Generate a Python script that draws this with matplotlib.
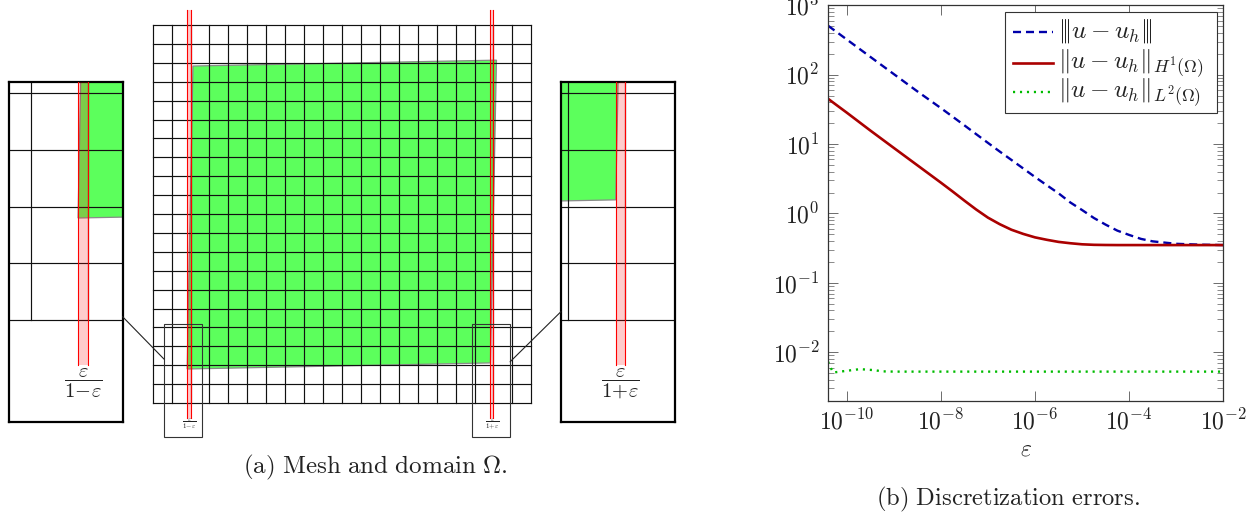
import matplotlib
matplotlib.use("Agg")
import numpy as np
import matplotlib.pyplot as plt
from matplotlib.patches import ConnectionPatch, Polygon, Rectangle
from matplotlib.ticker import LogLocator, NullFormatter, NullLocator

plt.rcParams['mathtext.fontset'] = 'cm'
plt.rcParams['font.family'] = ['cmr10', 'DejaVu Sans']
plt.rcParams['axes.formatter.use_mathtext'] = True

W, H = 1259, 516

# mesh and domain, in mesh units
n_cells = 20
domain_x = [0.1064, 0.908, 0.892, 0.091]
domain_y = [0.8915, 0.907, 0.106, 0.09]
strip_left = [0.091, 0.1]
strip_right = [0.892, 0.9]
strip_y = [-0.04, 1.04]
spy_left = [0.03, 0.13]
spy_right = [0.844, 0.944]
spy_y = [-0.09, 0.21]
label_left = r'$\dfrac{\varepsilon}{1\!-\!\varepsilon}$'
label_right = r'$\dfrac{\varepsilon}{1\!+\!\varepsilon}$'

# errors
eps = [4e-11, 1e-10, 3.16e-10, 1e-9, 3.16e-9, 1e-8, 1.78e-8, 3.16e-8, 5.62e-8, 1e-7, 1.78e-7,
       3.16e-7, 5.62e-7, 1e-6, 1.78e-6, 3.16e-6, 5.62e-6, 1e-5, 1.78e-5, 3.16e-5, 5.62e-5,
       1e-4, 1.78e-4, 3.16e-4, 1e-3, 3.16e-3, 1e-2]
err_triple = [509, 322, 181, 102, 57.5, 33, 24.8, 18.6, 13.9, 10.4, 7.8,
              5.9, 4.45, 3.35, 2.55, 1.95, 1.44, 1.12, 0.86, 0.69, 0.565,
              0.49, 0.43, 0.396, 0.365, 0.355, 0.35]
err_h1 = [45, 28.4, 15.7, 8.8, 4.95, 2.78, 2.07, 1.53, 1.14, 0.87, 0.70,
          0.582, 0.507, 0.452, 0.417, 0.389, 0.372, 0.359, 0.353, 0.351, 0.35,
          0.35, 0.35, 0.35, 0.35, 0.35, 0.35]
eps_l2 = [4e-11, 4.6e-11, 5.2e-11, 1.9e-10, 4e-10, 5.5e-10, 1e-9, 1e-8, 1e-6, 1e-4, 1e-2]
err_l2 = [0.0073, 0.0059, 0.0051, 0.0057, 0.0055, 0.0053, 0.00525, 0.00525, 0.00525, 0.00525, 0.00525]
x_ticks = [1e-10, 1e-8, 1e-6, 1e-4, 1e-2]
names = [r'$|\!|\!|u-u_h|\!|\!|$', r'$\Vert u-u_h\Vert_{H^1(\Omega)}$', r'$\Vert u-u_h\Vert_{L^2(\Omega)}$']
colors = ['#0000aa', '#aa0000', '#00bb00']


def px_axes(fig, left, top, right, bottom):
    return fig.add_axes([left / W, 1 - bottom / H, (right - left) / W, (bottom - top) / H])


def draw_mesh(ax, strips, labels, font_scale):
    # green domain first, the mesh and the strips go on top of it
    ax.add_patch(Polygon(np.column_stack([domain_x, domain_y]), closed=True,
                         facecolor='#5cff5c', edgecolor='#8a8a8a', lw=0.9, zorder=1))
    for k in range(n_cells + 1):
        ax.plot([k / n_cells, k / n_cells], [0, 1], color='#111111', lw=0.85, zorder=2)
        ax.plot([0, 1], [k / n_cells, k / n_cells], color='#111111', lw=0.85, zorder=2)
    for strip, label in zip(strips, labels):
        ax.add_patch(Rectangle((strip[0], strip_y[0]), strip[1] - strip[0], strip_y[1] - strip_y[0],
                               facecolor='red', alpha=0.2, lw=0, zorder=3))
        for x in strip:
            ax.plot([x, x], strip_y, color='red', lw=0.8, zorder=4)
        ax.text(sum(strip) / 2, -0.056, label, ha='center', va='center',
                fontsize=4.9 * font_scale, color='#222222')


fig = plt.figure(figsize=(W / 100, H / 100), dpi=100)

# left panel, main view: 0..1 sits at x 152.7..531.3 and y 403..25
ax = px_axes(fig, 152.7 - 0.1 * 378.6, 25 - 0.1 * 378, 531.3 + 0.1 * 378.6, 403 + 0.1 * 378)
ax.set_xlim(-0.1, 1.1)
ax.set_ylim(-0.1, 1.1)
ax.axis('off')
draw_mesh(ax, [strip_left, strip_right], [label_left, label_right], 1)
for spy in (spy_left, spy_right):
    ax.add_patch(Rectangle((spy[0], spy_y[0]), spy[1] - spy[0], spy_y[1] - spy_y[0],
                           fill=False, edgecolor='#333333', lw=0.8, zorder=5))

# the two magnified views, each only needs its own strip
ax_l = px_axes(fig, 8.5, 82, 122.5, 422)
ax_r = px_axes(fig, 561, 82, 675, 422)
for a, spy, strip, label in ((ax_l, spy_left, strip_left, label_left),
                             (ax_r, spy_right, strip_right, label_right)):
    draw_mesh(a, [strip], [label], 3)
    a.set_xlim(spy)
    a.set_ylim(spy_y)
    a.set_xticks([])
    a.set_yticks([])
    for s in a.spines.values():
        s.set_linewidth(1.6)

fig.add_artist(ConnectionPatch(xyA=(0.13, 0.003), coordsA=ax_l.transData,
                               xyB=(0.03, 0.116), coordsB=ax.transData, color='#222222', lw=0.8))
fig.add_artist(ConnectionPatch(xyA=(0.844, 0.0074), coordsA=ax_r.transData,
                               xyB=(0.944, 0.109), coordsB=ax.transData, color='#222222', lw=0.8))

fig.text(375 / W, 1 - 467 / H, r'$\mathrm{(a)\ Mesh\ and\ domain\ }\Omega\mathrm{.}$',
         ha='center', va='center', fontsize=18, color='#222222')
fig.text(1008 / W, 1 - 499 / H, r'$\mathrm{(b)\ Discretization\ errors.}$',
         ha='center', va='center', fontsize=17.7, color='#222222')

# right panel
bx = px_axes(fig, 828, 5.3, 1223.3, 400.7)
bx.loglog(eps, err_triple, color=colors[0], lw=1.7, dashes=(3.4, 2.1))
bx.loglog(eps, err_h1, color=colors[1], lw=1.9)
bx.loglog(eps_l2, err_l2, color=colors[2], lw=1.7, dashes=(0.9, 2.05))
bx.set_xlim(4e-11, 1e-2)
bx.set_ylim(2e-3, 1e3)
bx.set_xticks(x_ticks)
bx.xaxis.set_minor_locator(NullLocator())
bx.yaxis.set_major_locator(LogLocator(base=10, numticks=12))
bx.yaxis.set_minor_locator(LogLocator(base=10, subs=np.arange(2, 10), numticks=12))
bx.yaxis.set_minor_formatter(NullFormatter())
bx.tick_params(which='major', direction='in', top=True, right=True, length=7, width=0.6,
               color='#555555', labelsize=17, labelcolor='#222222', pad=6)
bx.tick_params(which='minor', direction='in', top=True, right=True, length=4.6, width=0.6,
               color='#777777')
bx.set_xlabel(r'$\varepsilon$', fontsize=17, color='#222222', labelpad=3)
for s in bx.spines.values():
    s.set_linewidth(0.9)
    s.set_color('#333333')

# legend by hand, the mathtext heights make the real legend's rows uneven
fx = lambda px: (px - 828) / 395.3
fy = lambda px: 1 - (px - 5.3) / 395.4
bx.add_patch(Rectangle((fx(1004.5), fy(112.7)), fx(1216.7) - fx(1004.5), fy(11.7) - fy(112.7),
                       transform=bx.transAxes, facecolor='white', edgecolor='#333333', lw=0.8, zorder=5))
row_y = [31.7, 62.7, 92.3]
row_style = [dict(dashes=(3.4, 2.1), lw=1.7), dict(lw=1.9), dict(dashes=(0.9, 2.05), lw=1.7)]
for name, col, y, style in zip(names, colors, row_y, row_style):
    bx.plot([fx(1013), fx(1053)], [fy(y), fy(y)], transform=bx.transAxes, color=col, zorder=6, **style)
    bx.text(fx(1058), fy(y + 6), name, transform=bx.transAxes, va='baseline', ha='left',
            fontsize=18.1, color='#222222', zorder=6)

fig.savefig('out.png', dpi=100)
